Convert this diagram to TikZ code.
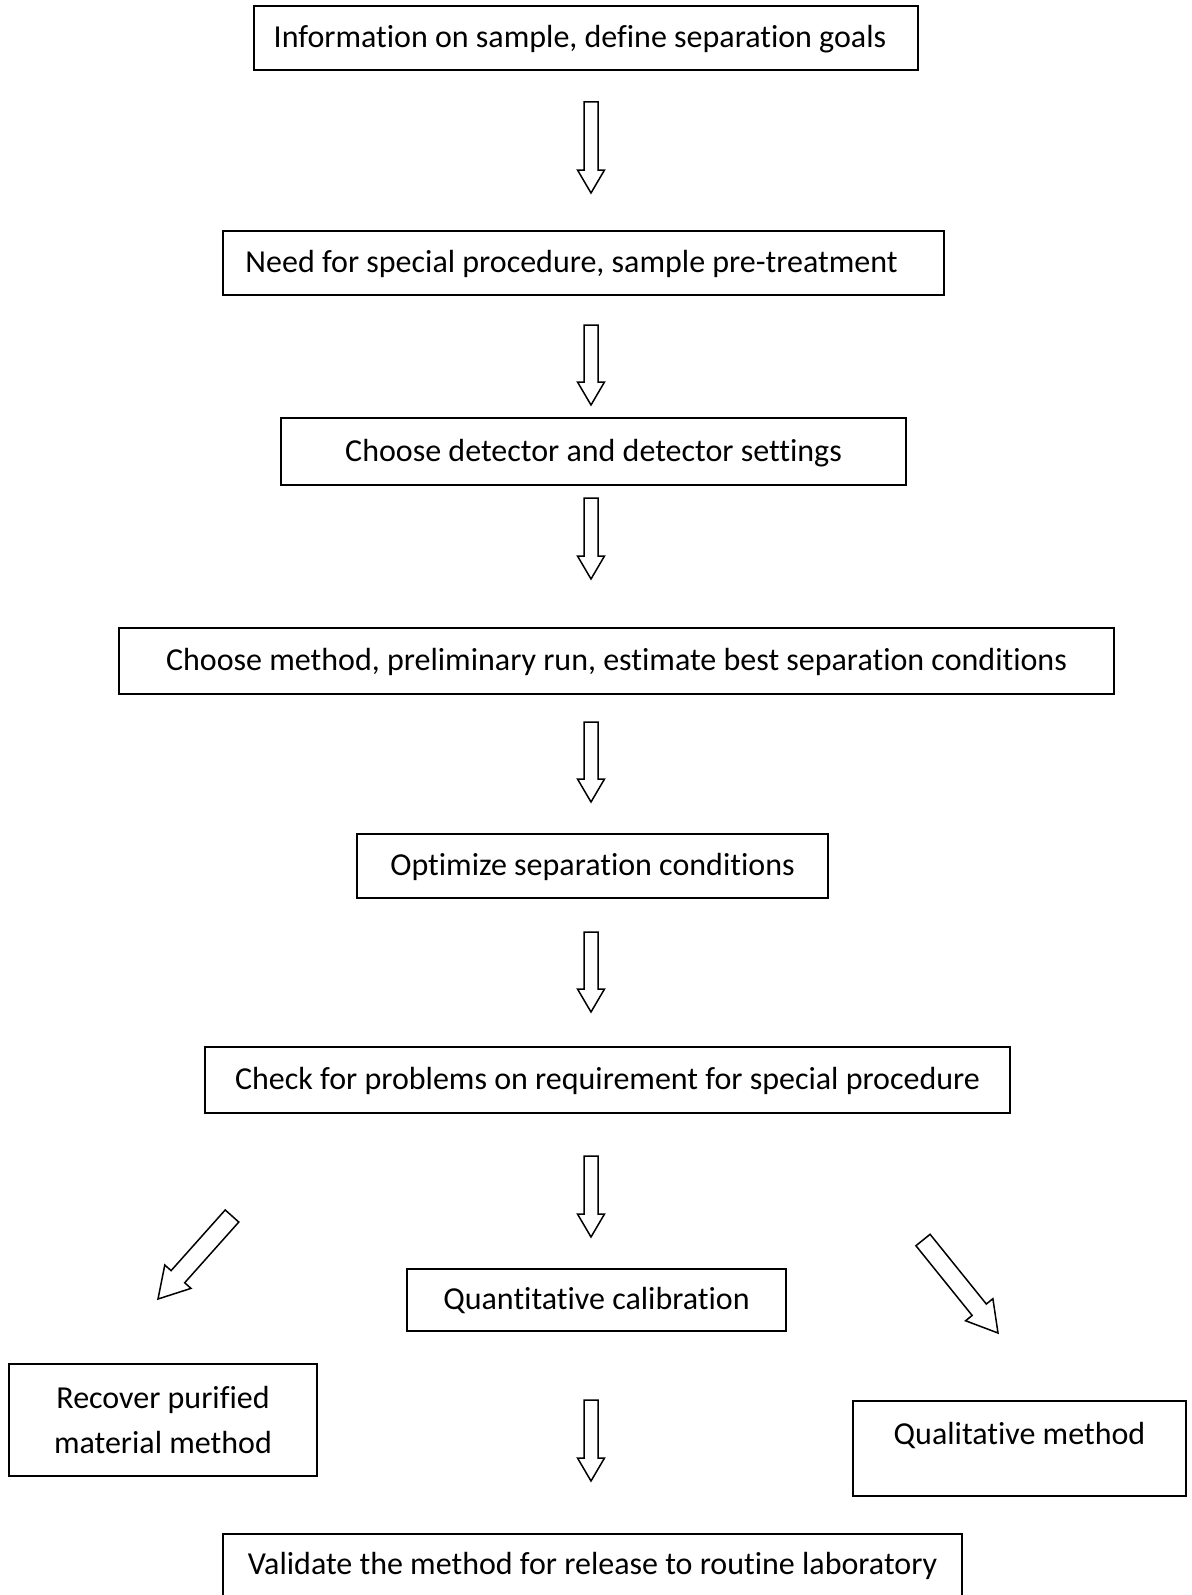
\documentclass[tikz,border=0pt]{standalone}
\usepackage{fontspec}
\setmainfont{Carlito}[Ligatures=NoCommon]
\usetikzlibrary{calc}

% hollow block arrow from #2 (tail) to #3 (tip), #1 scales its thickness
\newcommand{\hollowarrow}[3][1]{%
  \coordinate (hb) at ($(#3)!#1*11.5pt!(#2)$);
  \draw[line width=0.75pt, line join=miter, fill=white]
    ($(#2)!#1*3.5pt!90:(#3)$) -- ($(hb)!#1*3.5pt!90:(#3)$) -- ($(hb)!#1*6.75pt!90:(#3)$) -- (#3)
    -- ($(hb)!#1*6.75pt!-90:(#3)$) -- ($(hb)!#1*3.5pt!-90:(#3)$) -- ($(#2)!#1*3.5pt!-90:(#3)$) -- cycle;
}

\begin{document}
\begin{tikzpicture}[x=0.5pt, y=-0.5pt,
    stepbox/.style={rectangle, draw=black, line width=0.9pt, fill=white,
                    minimum height=32pt, inner sep=0pt,
                    font=\fontsize{16}{22.5}\selectfont, align=center},
    linebox/.style={stepbox, text height=13pt, text depth=3.4pt}
]
\useasboundingbox (0,0) rectangle (1191,1595);

% Main column of steps
\node[linebox, minimum width=332pt] (info) at (586,38) {Information on sample, define separation goals\hspace*{6pt}};
\node[linebox, minimum width=360.5pt] (need) at (583.5,263) {Need for special procedure, sample pre-treatment\hspace*{12pt}};
\node[linebox, minimum width=312.5pt, minimum height=33.5pt] (detector) at (593.5,451.5) {Choose detector and detector settings};
\node[linebox, minimum width=497.5pt, minimum height=33pt] (method) at (616.5,661) {Choose method, preliminary run, estimate best separation conditions};
\node[linebox, minimum width=235.5pt] (optimize) at (592.5,866) {Optimize separation conditions};
\node[linebox, minimum width=402.5pt, minimum height=33pt] (check) at (607.5,1080) {Check for problems on requirement for special procedure};
\node[linebox, minimum width=189.5pt, minimum height=31pt] (calib) at (596.5,1300) {Quantitative calibration};

% Side outcomes
\node[stepbox, minimum width=154pt, minimum height=56pt] (recover) at (163,1420) {Recover purified\\material method};
\node[stepbox, minimum width=166.5pt, minimum height=47.5pt, text height=11pt, text depth=15.5pt] (qual) at (1019.5,1448.5) {Qualitative method};

% Last step, runs off the page
\node[stepbox, anchor=north, minimum width=369.5pt, minimum height=60pt, text height=11pt, text depth=30pt] (validate) at (592.5,1533) {Validate the method for release to routine laboratory};

% Arrows between the steps
\coordinate (a1s) at (591,102);  \coordinate (a1e) at (591,193);
\coordinate (a2s) at (591,325);  \coordinate (a2e) at (591,405);
\coordinate (a3s) at (591,498);  \coordinate (a3e) at (591,579);
\coordinate (a4s) at (591,722);  \coordinate (a4e) at (591,802);
\coordinate (a5s) at (591,932);  \coordinate (a5e) at (591,1012);
\coordinate (a6s) at (591,1156); \coordinate (a6e) at (591,1237);
\coordinate (a7s) at (591,1400); \coordinate (a7e) at (591,1481);
\coordinate (lefts) at (232,1216);  \coordinate (lefte) at (158,1299);
\coordinate (rights) at (923,1240); \coordinate (righte) at (998,1333);

\hollowarrow{a1s}{a1e}
\hollowarrow{a2s}{a2e}
\hollowarrow{a3s}{a3e}
\hollowarrow{a4s}{a4e}
\hollowarrow{a5s}{a5e}
\hollowarrow{a6s}{a6e}
\hollowarrow{a7s}{a7e}
\hollowarrow[1.3]{lefts}{lefte}
\hollowarrow[1.3]{rights}{righte}
\end{tikzpicture}
\end{document}
